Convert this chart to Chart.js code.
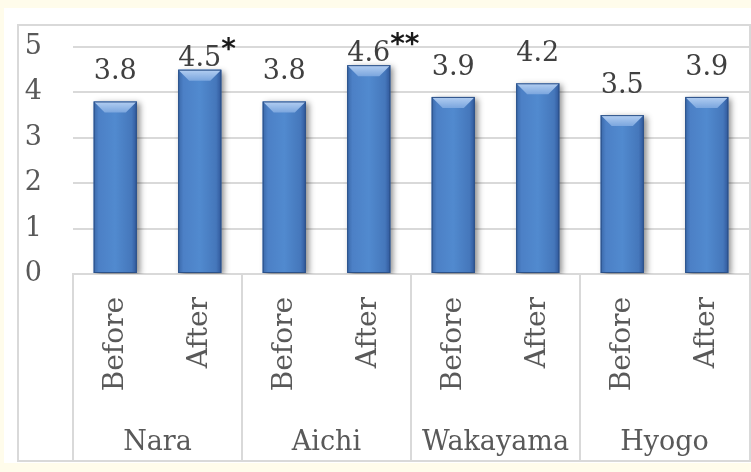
<!DOCTYPE html>
<html lang="en">
<head>
<meta charset="UTF-8">
<title>Before / After by Prefecture</title>
<script src="https://cdn.jsdelivr.net/npm/chart.js"></script>
<style>
    body {
        margin: 0;
        width: 751px;
        height: 472px;
        overflow: hidden;
        position: relative;
        background: #fffceb;
    }

    /* white sheet behind the chart */
    .sheet {
        position: absolute;
        left: 4px;
        top: 8px;
        width: 747px;
        height: 455px;
        background: #fff;
    }

    /* grey chart frame */
    .frame {
        position: absolute;
        left: 13px;
        top: 16px;
        width: 734px;
        height: 438px;
        box-sizing: border-box;
        border: 2px solid #d9d9d9;
    }

    canvas { display: block; }
</style>
</head>
<body>
<div class="sheet">
    <div class="frame">
        <canvas id="scoreChart" width="730" height="434"></canvas>
    </div>
</div>

<script>
    // prefectures (outer axis) and survey periods (inner axis)
    const prefectures = ['Nara', 'Aichi', 'Wakayama', 'Hyogo'];
    const periods = ['Before', 'After', 'Before', 'After', 'Before', 'After', 'Before', 'After'];
    const scores = [3.8, 4.5, 3.8, 4.6, 3.9, 4.2, 3.5, 3.9];
    const sigMarks = ['', '*', '', '**', '', '', '', ''];
    const yTicks = [0, 1, 2, 3, 4, 5];

    const serif = "'DejaVu Serif', serif";
    const gridGrey = '#d9d9d9';

    Chart.defaults.font.family = serif;
    Chart.defaults.color = '#595959';

    // fixed axis sizes, no extra padding from the tick labels
    function fixSize(prop, size) {
        return s => {
            s[prop] = size;
            s.paddingLeft = s.paddingRight = s.paddingTop = s.paddingBottom = 0;
        };
    }

    // bevelled blue bars with a soft drop shadow
    const barStyle = {
        id: 'barStyle',
        beforeDatasetDraw(chart) {
            const c = chart.ctx;
            c.save();
            c.shadowColor = 'rgba(0, 0, 0, 0.45)';
            c.shadowBlur = 6;
            c.shadowOffsetX = 3;
            c.shadowOffsetY = 2;
        },
        afterDatasetDraw(chart, args) {
            const c = chart.ctx;
            c.restore();
            args.meta.data.forEach(bar => {
                const l = bar.x - bar.width / 2, r = bar.x + bar.width / 2;
                const t = bar.y, b = bar.base;

                const side = c.createLinearGradient(l, 0, r, 0);
                side.addColorStop(0, '#3a68a9');
                side.addColorStop(0.12, '#4c80c6');
                side.addColorStop(0.5, '#518acf');
                side.addColorStop(0.88, '#4577bb');
                side.addColorStop(1, '#30579a');
                c.fillStyle = side;
                c.fillRect(l, t, r - l, b - t);

                const bv = Math.min(11, (b - t) / 2);
                const top = c.createLinearGradient(0, t, 0, t + bv);
                top.addColorStop(0, '#b4cff2');
                top.addColorStop(1, '#7ba6de');
                c.beginPath();
                c.moveTo(l, t);
                c.lineTo(r, t);
                c.lineTo(r - bv, t + bv);
                c.lineTo(l + bv, t + bv);
                c.closePath();
                c.fillStyle = top;
                c.fill();

                c.strokeStyle = '#2c5188';
                c.lineWidth = 1;
                c.strokeRect(l + 0.5, t + 0.5, r - l - 1, b - t - 1);
            });
        }
    };

    // value labels above the bars, significance marks after the number
    const valueLabels = {
        id: 'valueLabels',
        afterDatasetsDraw(chart) {
            const c = chart.ctx;
            chart.getDatasetMeta(0).data.forEach((bar, i) => {
                const text = scores[i].toFixed(1);
                const lift = sigMarks[i] ? 4 : 22;
                c.save();
                c.font = '27px ' + serif;
                c.fillStyle = '#404040';
                c.textAlign = 'center';
                c.textBaseline = 'alphabetic';
                c.fillText(text, bar.x, bar.y - lift);
                if (sigMarks[i]) {
                    const w = c.measureText(text).width;
                    c.font = "bold 28px 'DejaVu Sans', sans-serif";
                    c.fillStyle = '#1a1a1a';
                    c.textAlign = 'left';
                    c.fillText(sigMarks[i], bar.x + w / 2, bar.y - lift - 8);
                }
                c.restore();
            });
        }
    };

    // vertical dividers between the prefecture groups
    const groupDividers = {
        id: 'groupDividers',
        afterDraw(chart) {
            const c = chart.ctx;
            const g = chart.scales.group;
            const half = (g.getPixelForValue(1) - g.getPixelForValue(0)) / 2;
            c.save();
            c.strokeStyle = gridGrey;
            c.lineWidth = 2;
            prefectures.forEach((p, i) => {
                const x = Math.round(g.getPixelForValue(i) - half);
                c.beginPath();
                c.moveTo(x, chart.chartArea.bottom);
                c.lineTo(x, g.bottom);
                c.stroke();
            });
            c.restore();
        }
    };

    new Chart(document.getElementById('scoreChart'), {
        type: 'bar',
        data: {
            labels: periods,
            datasets: [{
                data: scores,
                xAxisID: 'x',
                backgroundColor: '#4a80c6',
                borderWidth: 0,
                categoryPercentage: 1,
                barPercentage: 0.51
            }]
        },
        options: {
            responsive: false,
            animation: false,
            layout: { padding: { top: 21, left: 0, right: 0, bottom: 0 } },
            plugins: {
                legend: { display: false },
                tooltip: { enabled: false }
            },
            scales: {
                y: {
                    min: yTicks[0],
                    max: yTicks[yTicks.length - 1],
                    afterBuildTicks: s => { s.ticks = yTicks.map(v => ({ value: v })); },
                    afterFit: fixSize('width', 54),
                    grid: { color: gridGrey, lineWidth: 2, drawTicks: false },
                    border: { display: false },
                    ticks: { padding: 31, font: { size: 27 } }
                },
                x: {
                    offset: true,
                    afterFit: fixSize('height', 131),
                    grid: { display: false },
                    border: { display: true, color: gridGrey, width: 2 },
                    ticks: {
                        autoSkip: false,
                        minRotation: 90,
                        maxRotation: 90,
                        padding: 15,
                        font: { size: 28 }
                    }
                },
                group: {
                    type: 'category',
                    position: 'bottom',
                    labels: prefectures,
                    offset: true,
                    afterFit: fixSize('height', 55),
                    grid: { display: false },
                    border: { display: false },
                    ticks: { padding: 14, font: { size: 27 } }
                }
            }
        },
        plugins: [barStyle, valueLabels, groupDividers]
    });
</script>
</body>
</html>
